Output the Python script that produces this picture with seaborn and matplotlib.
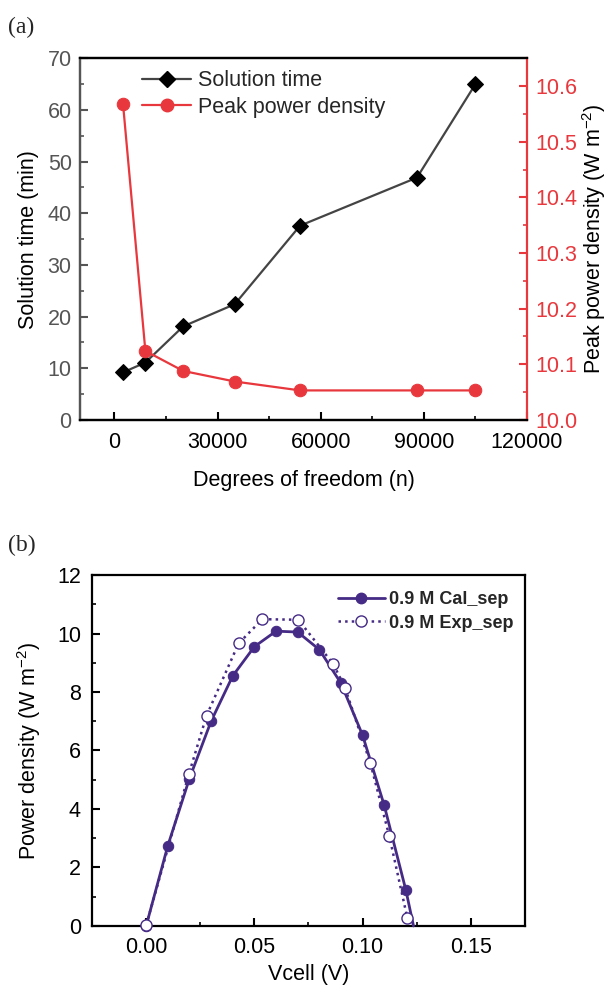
import numpy as np
import pandas as pd
import matplotlib
matplotlib.use("Agg")
import matplotlib.pyplot as plt
from matplotlib.ticker import MultipleLocator, FormatStrFormatter
from matplotlib.lines import Line2D
import seaborn as sns

sns.set_theme(style="ticks")
plt.rcParams["font.family"] = ["Liberation Sans", "DejaVu Sans"]
plt.rcParams["mathtext.fontset"] = "custom"
plt.rcParams["mathtext.rm"] = "Liberation Sans"
plt.rcParams["mathtext.it"] = "Liberation Sans:italic"

# ---- (a) mesh study ----
dof = [2500, 9000, 20000, 35000, 54000, 88000, 105000]
solution_time = [9.2, 11.1, 18.1, 22.4, 37.6, 46.9, 65.0]
peak_power = [10.568, 10.124, 10.088, 10.069, 10.053, 10.053, 10.053]

# ---- (b) power density curves ----
v_cal = [0.0, 0.01, 0.02, 0.03, 0.04, 0.05, 0.06, 0.07, 0.08, 0.09, 0.10, 0.11, 0.12, 0.1235]
p_cal = [0.0, 2.74, 5.04, 7.0, 8.55, 9.55, 10.08, 10.05, 9.45, 8.3, 6.52, 4.12, 1.22, 0.0]
v_exp = [0.0, 0.0198, 0.0279, 0.0427, 0.0537, 0.0703, 0.0865, 0.0919, 0.1036, 0.1123, 0.1207]
p_exp = [0.02, 5.21, 7.19, 9.66, 10.49, 10.47, 8.95, 8.14, 5.56, 3.08, 0.26]

RED = "#e8383d"
GREY = "#555555"
PURPLE = "#452b85"
FS = 15.5

df_a = pd.DataFrame({"dof": dof, "time": solution_time, "ppd": peak_power})
df_cal = pd.DataFrame({"v": v_cal, "p": p_cal})
df_exp = pd.DataFrame({"v": v_exp, "p": p_exp})

fig = plt.figure(figsize=(6.11, 9.88), dpi=100)

# ======== panel (a) ========
ax = fig.add_axes([0.131, 0.575, 0.7315, 0.366])
ax2 = ax.twinx()

sns.lineplot(data=df_a, x="dof", y="time", ax=ax, color="#444444", lw=1.6,
             marker="D", markersize=8.5, markerfacecolor="black",
             markeredgecolor="black", sort=False, zorder=3)
sns.lineplot(data=df_a, x="dof", y="ppd", ax=ax2, color=RED, lw=1.6,
             marker="o", markersize=9, markerfacecolor=RED,
             markeredgecolor=RED, sort=False, zorder=3)

ax.set_xlim(-10000, 120000)
ax.set_ylim(0, 70)
ax2.set_ylim(10.0, 10.65)
ax.xaxis.set_major_locator(MultipleLocator(30000))
ax.xaxis.set_minor_locator(MultipleLocator(15000))
ax.yaxis.set_major_locator(MultipleLocator(10))
ax.yaxis.set_minor_locator(MultipleLocator(5))
ax2.yaxis.set_major_locator(MultipleLocator(0.1))
ax2.yaxis.set_minor_locator(MultipleLocator(0.05))
ax2.yaxis.set_major_formatter(FormatStrFormatter("%.1f"))

ax.set_xlabel("Degrees of freedom (n)", fontsize=FS, color="black", labelpad=12)
ax.set_ylabel("Solution time (min)", fontsize=FS, color="black", labelpad=6)
ax2.set_ylabel("Peak power density (W m$^{-2}$)", fontsize=FS, color="black", labelpad=2)

for a in (ax, ax2):
    for s in a.spines.values():
        s.set_linewidth(1.6)
        s.set_color("black")
ax.spines["left"].set_color(GREY)
ax2.spines["left"].set_color(GREY)
ax2.spines["right"].set_color(RED)
ax.spines["right"].set_visible(False)

ax.tick_params(axis="x", which="both", direction="in", labelsize=FS, colors="black", pad=9)
ax.tick_params(axis="x", which="major", length=6, width=1.5)
ax.tick_params(axis="x", which="minor", length=3, width=1.2)
ax.tick_params(axis="y", which="both", direction="in", labelsize=FS, colors=GREY, labelcolor=GREY, pad=6)
ax.tick_params(axis="y", which="major", length=6, width=1.5)
ax.tick_params(axis="y", which="minor", length=3, width=1.2)
ax2.tick_params(axis="y", which="both", direction="in", labelsize=FS, colors=RED, labelcolor=RED, pad=6)
ax2.tick_params(axis="y", which="major", length=6, width=1.5)
ax2.tick_params(axis="y", which="minor", length=3, width=1.2)

handles_a = [
    Line2D([], [], color="#444444", lw=1.6, marker="D", markersize=8.5,
           markerfacecolor="black", markeredgecolor="black"),
    Line2D([], [], color=RED, lw=1.6, marker="o", markersize=9,
           markerfacecolor=RED, markeredgecolor=RED),
]
ax2.legend(handles_a, ["Solution time", "Peak power density"], loc="upper left",
           bbox_to_anchor=(0.095, 1.02), frameon=False, fontsize=FS,
           handlelength=2.3, handletextpad=0.3, labelspacing=0.25)
if ax.get_legend() is not None:
    ax.get_legend().remove()

fig.text(0.013, 0.9727, "(a)", fontsize=17, family=["Liberation Serif", "DejaVu Serif"], va="center")

# ======== panel (b) ========
bx = fig.add_axes([0.1506, 0.0628, 0.7086, 0.3552])

markers_idx = list(range(len(v_cal) - 1))
sns.lineplot(data=df_cal, x="v", y="p", ax=bx, color=PURPLE, lw=2.0, marker="o",
             markersize=7.5, markerfacecolor=PURPLE, markeredgecolor=PURPLE,
             markevery=markers_idx, sort=False, zorder=3, clip_on=False)
sns.lineplot(data=df_exp, x="v", y="p", ax=bx, color=PURPLE, lw=1.8, linestyle=":",
             marker="o", markersize=8, markerfacecolor="white",
             markeredgecolor=PURPLE, markeredgewidth=1.0, sort=False, zorder=4,
             clip_on=False)

bx.set_xlim(-0.025, 0.175)
bx.set_ylim(0, 12)
bx.xaxis.set_major_locator(MultipleLocator(0.05))
bx.xaxis.set_minor_locator(MultipleLocator(0.025))
bx.yaxis.set_major_locator(MultipleLocator(2))
bx.yaxis.set_minor_locator(MultipleLocator(1))
bx.xaxis.set_major_formatter(FormatStrFormatter("%.2f"))

bx.set_xlabel("Vcell (V)", fontsize=FS, color="black", labelpad=4)
bx.set_ylabel("Power density (W m$^{-2}$)", fontsize=FS, color="black", labelpad=10)
for s in bx.spines.values():
    s.set_linewidth(1.6)
    s.set_color("black")
bx.tick_params(which="both", direction="in", labelsize=FS, colors="black", pad=8)
bx.tick_params(which="major", length=6, width=1.5)
bx.tick_params(which="minor", length=3, width=1.2)

handles_b = [
    Line2D([], [], color=PURPLE, lw=2.0, marker="o", markersize=7.5,
           markerfacecolor=PURPLE, markeredgecolor=PURPLE),
    Line2D([], [], color=PURPLE, lw=1.8, linestyle=":", marker="o", markersize=8,
           markerfacecolor="white", markeredgecolor=PURPLE, markeredgewidth=1.0),
]
bx.legend(handles_b, ["0.9 M Cal_sep", "0.9 M Exp_sep"], loc="upper right",
          bbox_to_anchor=(1.01, 1.0), frameon=False,
          prop={"size": 13, "weight": "bold"}, handlelength=2.6,
          handletextpad=0.2, labelspacing=0.35)

fig.text(0.013, 0.448, "(b)", fontsize=17, family=["Liberation Serif", "DejaVu Serif"], va="center")

fig.savefig("out.png", dpi=100)
